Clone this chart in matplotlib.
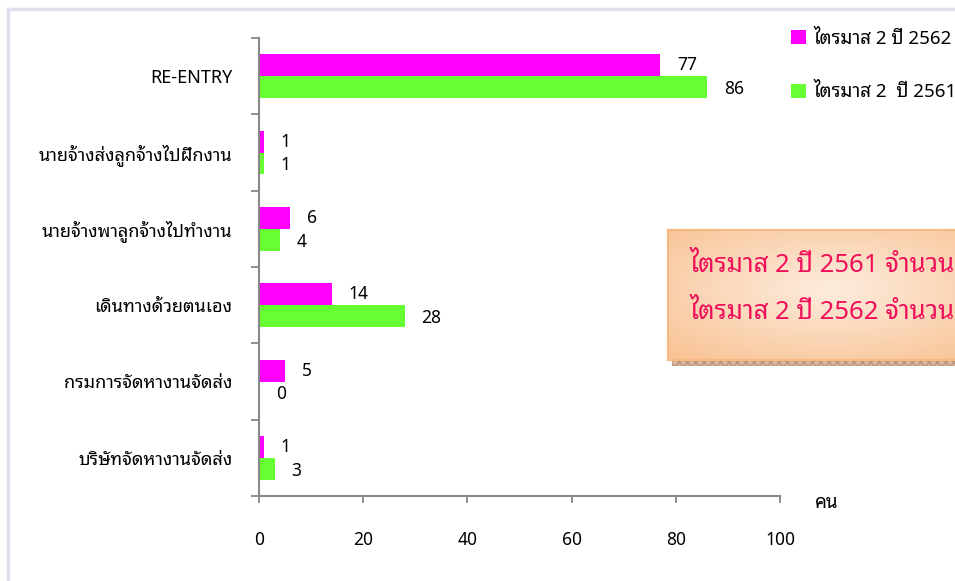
import matplotlib
matplotlib.use("Agg")
import matplotlib.pyplot as plt
import numpy as np
from matplotlib.patches import Rectangle
from matplotlib.lines import Line2D

FAM = ['Noto Sans Thai Looped', 'DejaVu Sans']
plt.rcParams['font.family'] = FAM
plt.rcParams['font.weight'] = 'medium'

categories = ['RE-ENTRY', 'นายจ้างส่งลูกจ้างไปฝึกงาน', 'นายจ้างพาลูกจ้างไปทำงาน',
              'เดินทางด้วยตนเอง', 'กรมการจัดหางานจัดส่ง', 'บริษัทจัดหางานจัดส่ง']
q2_2562 = [77, 1, 6, 14, 5, 1]
q2_2561 = [86, 1, 4, 28, 0, 3]
series_labels = ['ไตรมาส 2 ปี 2562', 'ไตรมาส 2  ปี 2561']
x_ticks = [0, 20, 40, 60, 80, 100]
unit_label = 'คน'
box_lines = ['ไตรมาส 2 ปี 2561 จำนวน', 'ไตรมาส 2 ปี 2562 จำนวน']

W, H = 955, 581
fig = plt.figure(figsize=(W / 100, H / 100), dpi=100)
fig.patch.set_facecolor('white')

def fx(px):
    return px / W

def fy(py):
    return 1 - py / H

ax = fig.add_axes([fx(259), fy(496), fx(780) - fx(259), fy(38) - fy(496)])
y = np.arange(len(categories))
bh = 0.284
ax.barh(y - bh / 2, q2_2562, height=bh, color='#FF00FF', label=series_labels[0])
ax.barh(y + bh / 2, q2_2561, height=bh, color='#66FF33', label=series_labels[1])

for yi, v in zip(y - bh / 2, q2_2562):
    ax.annotate(str(v), (v, yi), xytext=(12, 0), textcoords='offset points',
                ha='left', va='center', fontsize=12.5, family=FAM)
for yi, v in zip(y + bh / 2, q2_2561):
    ax.annotate(str(v), (v, yi), xytext=(12, -1.5), textcoords='offset points',
                ha='left', va='center', fontsize=12.5, family=FAM)

ax.set_xlim(0, 100)
ax.set_ylim(len(categories) - 0.5, -0.5)
ax.set_xticks(x_ticks)
ax.set_xticklabels([str(t) for t in x_ticks], fontsize=12.5)
ax.set_yticks(y)
ax.set_yticklabels(categories, fontsize=13)
ax.set_yticks(np.arange(len(categories) + 1) - 0.5, minor=True)
ax.tick_params(axis='y', which='major', length=0, pad=19)
ax.tick_params(axis='y', which='minor', length=6, width=1.3, color='#888888', direction='out')
ax.tick_params(axis='x', which='major', length=5, width=1.3, color='#888888', direction='out', pad=20)
for s in ['top', 'right']:
    ax.spines[s].set_visible(False)
for s in ['left', 'bottom']:
    ax.spines[s].set_color('#888888')
    ax.spines[s].set_linewidth(1.5)

leg = ax.legend(loc='upper left', bbox_to_anchor=(fx(783), fy(22)), bbox_transform=fig.transFigure,
                handlelength=0.8, handleheight=0.8, handletextpad=0.4, labelspacing=1.9,
                frameon=False, prop={'family': FAM, 'size': 13.5, 'weight': 'medium'}, borderaxespad=0)

fig.text(fx(827), fy(503), unit_label, ha='center', va='center', fontsize=13.5, weight='normal')

# frame lines
fig.add_artist(Line2D([fx(8), fx(8)], [fy(9), 0], transform=fig.transFigure, color='#E2DEEE', lw=2.5))
fig.add_artist(Line2D([fx(8), 1], [fy(9), fy(9)], transform=fig.transFigure, color='#E2DEEE', lw=2.5))

# annotation box with gradient
bx0, by0, bx1, by1 = 668, 230, 962, 360
fig.add_artist(Rectangle((fx(bx0 + 4), fy(by1 + 6)), fx(bx1) - fx(bx0), fy(by1) - fy(by1 + 6),
                         transform=fig.transFigure, facecolor='#D8B49A', edgecolor='#B89478',
                         hatch='xxxx', lw=0, zorder=3))
bax = fig.add_axes([fx(bx0), fy(by1), fx(bx1) - fx(bx0), fy(by0) - fy(by1)], zorder=4)
gx, gy = np.meshgrid(np.linspace(-1, 1, 300), np.linspace(-1, 1, 130))
r = np.clip(np.sqrt(((gx - 0.1) * 0.9) ** 2 + ((gy - 0.1) * 1.0) ** 2), 0, 1.4) / 1.4
c0 = np.array([253, 236, 222]) / 255
c1 = np.array([249, 196, 150]) / 255
img = c0[None, None, :] * (1 - r[..., None]) + c1[None, None, :] * r[..., None]
bax.imshow(img, extent=[0, 1, 0, 1], aspect='auto', origin='lower')
bax.set_xlim(0, 1)
bax.set_ylim(0, 1)
bax.set_xticks([])
bax.set_yticks([])
for s in bax.spines.values():
    s.set_color('#F8B884')
    s.set_linewidth(1.5)
bax.text((690 - bx0) / (bx1 - bx0), (by1 - 265) / (by1 - by0), box_lines[0], ha='left', va='center',
         fontsize=18.5, color='#F0105A', family=FAM, weight='normal')
bax.text((690 - bx0) / (bx1 - bx0), (by1 - 312) / (by1 - by0), box_lines[1], ha='left', va='center',
         fontsize=18.5, color='#F0105A', family=FAM, weight='normal')

fig.savefig('out.png', dpi=100)
